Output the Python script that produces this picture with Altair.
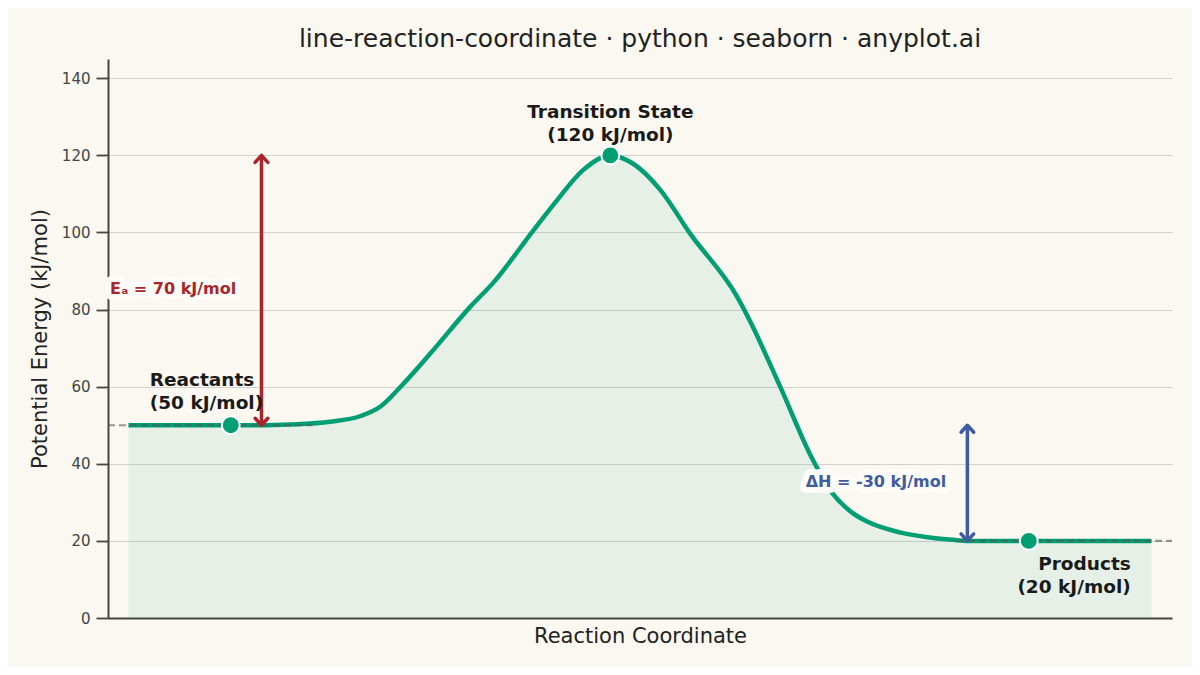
import altair as alt
import pandas as pd

# energy profile (x in arbitrary reaction-coordinate units)
coord = [0.0, 1.0, 1.29, 1.58, 1.97, 2.27, 2.46, 2.66, 2.95, 3.34, 3.56,
         3.96, 4.19, 4.44, 4.71, 4.93, 5.20, 5.49, 5.95, 6.07, 6.37,
         6.69, 6.88, 7.08, 7.22, 7.54, 7.83, 8.06, 8.20, 8.80, 10.0]
energy = [50, 50, 50, 50.2, 50.9, 52.4, 54.8, 60, 68.6, 80.7, 86.8,
          100.6, 108.4, 116.1, 120, 117.9, 111, 99.7, 83.3, 77.3, 60,
          41, 32.4, 27.2, 25, 22.2, 20.9, 20.3, 20, 20, 20]

# key stationary points
stage_x = [1.0, 4.71, 8.8]
stage_e = [50, 120, 20]
stage_lbl = ["Reactants\n(50 kJ/mol)", "Transition State\n(120 kJ/mol)", "Products\n(20 kJ/mol)"]

# dashed reference levels
level_e = [50, 20]
level_x1 = [-0.2, 8.1]
level_x2 = [1.8, 10.2]

# arrows: activation energy and enthalpy change
arrow_x = [1.3, 8.2]
arrow_lo = [50, 20]
arrow_hi = [120, 50]
arrow_col = ["#A8262B", "#3E5CA0"]
arrow_lbl = ["Eₐ = 70 kJ/mol", "ΔH = -30 kJ/mol"]
arrow_lbl_x = [-0.18, 6.62]
arrow_lbl_y = [85.3, 35.3]

GREEN = "#009E73"
FONT = "DejaVu Sans"

curve = pd.DataFrame({"x": coord, "e": energy})
stages = pd.DataFrame({"x": stage_x, "e": stage_e, "lbl": stage_lbl})
levels = pd.DataFrame({"e": level_e, "x1": level_x1, "x2": level_x2})
arrows = pd.DataFrame({"x": arrow_x, "lo": arrow_lo, "hi": arrow_hi, "col": arrow_col,
                       "lbl": arrow_lbl, "lx": arrow_lbl_x, "ly": arrow_lbl_y})

xs = alt.Scale(domain=[-0.2, 10.2], nice=False, zero=False)
ys = alt.Scale(domain=[0, 145], nice=False)

x_axis = alt.Axis(labels=False, ticks=False, grid=False, domainColor="#444",
                  domainWidth=2, title="Reaction Coordinate", titleFontSize=21,
                  titleFont=FONT, titleFontWeight="normal", titleColor="#222",
                  titlePadding=7)
y_axis = alt.Axis(values=[0, 20, 40, 60, 80, 100, 120, 140], tickSize=12,
                  tickWidth=1.8, tickColor="#444", domainColor="#444", domainWidth=2,
                  labelFontSize=15, labelFont=FONT, labelColor="#444", labelPadding=6,
                  gridColor="#d3d2cd", gridWidth=1.2,
                  title="Potential Energy (kJ/mol)", titleFontSize=21, titleFont=FONT,
                  titleFontWeight="normal", titleColor="#222", titlePadding=11)

area = alt.Chart(curve).mark_area(color=GREEN, opacity=0.08, interpolate="monotone").encode(
    x=alt.X("x:Q", scale=xs, axis=x_axis),
    y=alt.Y("e:Q", scale=ys, axis=y_axis),
)

line = alt.Chart(curve).mark_line(color=GREEN, strokeWidth=4.5, interpolate="monotone").encode(
    x=alt.X("x:Q", scale=xs),
    y=alt.Y("e:Q", scale=ys),
)

dashes = alt.Chart(levels).mark_rule(color="#555", strokeDash=[7, 4], strokeWidth=2.2, opacity=0.6).encode(
    x=alt.X("x1:Q", scale=xs),
    x2="x2:Q",
    y=alt.Y("e:Q", scale=ys),
)

shafts = alt.Chart(arrows).mark_rule(strokeWidth=3.5).encode(
    x=alt.X("x:Q", scale=xs),
    y=alt.Y("lo:Q", scale=ys),
    y2="hi:Q",
    color=alt.Color("col:N", scale=None),
)

head_up = alt.Chart(arrows).mark_point(
    shape="M -1 1.1 L 0 0 L 1 1.1", filled=False, size=160, strokeWidth=3.5,
    strokeCap="round", strokeJoin="round", opacity=1,
).encode(
    x=alt.X("x:Q", scale=xs),
    y=alt.Y("hi:Q", scale=ys),
    color=alt.Color("col:N", scale=None),
)

head_down = alt.Chart(arrows).mark_point(
    shape="M -1 -1.1 L 0 0 L 1 -1.1", filled=False, size=160, strokeWidth=3.5,
    strokeCap="round", strokeJoin="round", opacity=1,
).encode(
    x=alt.X("x:Q", scale=xs),
    y=alt.Y("lo:Q", scale=ys),
    color=alt.Color("col:N", scale=None),
)

# light halo behind the arrow labels, like the boxed annotations
arrow_halo = alt.Chart(arrows).mark_text(
    font=FONT, fontSize=16, fontWeight="bold", align="left", baseline="middle",
    stroke="#fdfcf9", strokeWidth=12, strokeJoin="round", fill="#fdfcf9",
).encode(
    x=alt.X("lx:Q", scale=xs),
    y=alt.Y("ly:Q", scale=ys),
    text="lbl:N",
)

arrow_text = alt.Chart(arrows).mark_text(
    font=FONT, fontSize=16, fontWeight="bold", align="left", baseline="middle",
).encode(
    x=alt.X("lx:Q", scale=xs),
    y=alt.Y("ly:Q", scale=ys),
    text="lbl:N",
    color=alt.Color("col:N", scale=None),
)

dots = alt.Chart(stages).mark_circle(size=320, color=GREEN, opacity=1,
                                     stroke="white", strokeWidth=2).encode(
    x=alt.X("x:Q", scale=xs),
    y=alt.Y("e:Q", scale=ys),
)


def stage_label(flt, align, baseline, dx, dy):
    return alt.Chart(stages).transform_filter(flt).mark_text(
        font=FONT, fontSize=18.5, fontWeight="bold", color="#1a1a1a", lineBreak="\n",
        lineHeight=23, align=align, baseline=baseline, dx=dx, dy=dy,
    ).encode(x=alt.X("x:Q", scale=xs), y=alt.Y("e:Q", scale=ys), text="lbl:N")


lbl_react = stage_label(alt.datum.x < 2, "left", "bottom", -81, -35)
lbl_ts = stage_label((alt.datum.x > 2) & (alt.datum.x < 6), "center", "bottom", 0, -33)
lbl_prod = stage_label(alt.datum.x > 6, "right", "top", 102, 14)

chart = alt.layer(
    area, line, dashes, shafts, head_up, head_down, dots,
    lbl_react, lbl_ts, lbl_prod, arrow_halo, arrow_text,
).properties(
    width=1064,
    height=559,
    autosize=alt.AutoSizeParams(type="none"),
    padding={"left": 100, "top": 51, "right": 20, "bottom": 49},
    background="#FAF8F1",
    title=alt.TitleParams(
        "line-reaction-coordinate · python · seaborn · anyplot.ai",
        font=FONT, fontSize=25, fontWeight="normal", color="#222",
        anchor="middle", baseline="bottom", offset=-18,
    ),
).configure_view(stroke=None)

chart.save("out.html", embed_options={"renderer": "svg", "actions": False})
